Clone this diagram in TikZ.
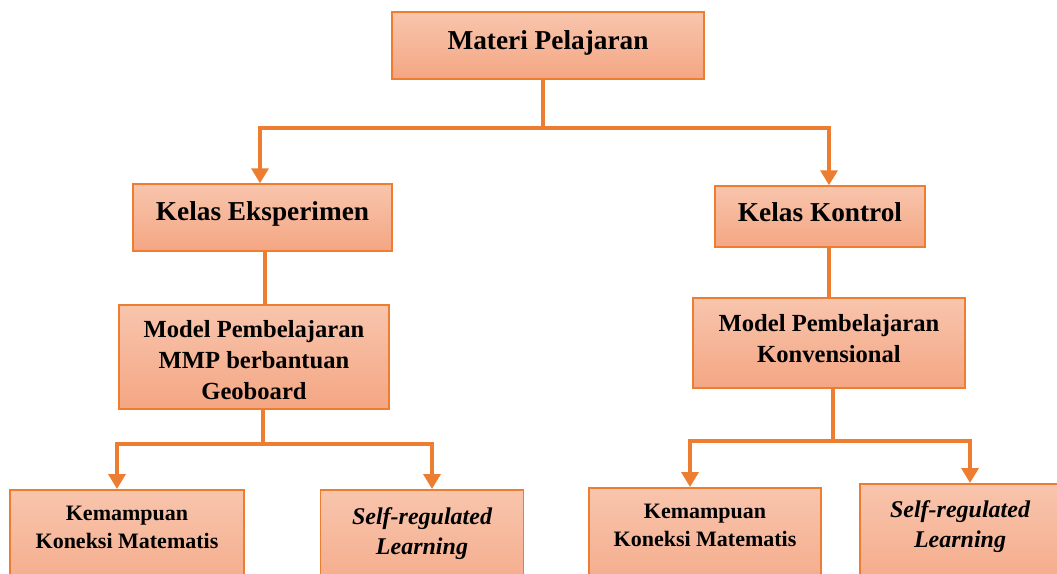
\documentclass[tikz,border=0pt]{standalone}
\usepackage{fontspec}
\setmainfont{Liberation Serif}
\usetikzlibrary{arrows.meta}
\definecolor{edge}{HTML}{ED7D31}
\definecolor{ftop}{HTML}{F8C5AD}
\definecolor{fbot}{HTML}{F4A683}
\begin{document}
\begin{tikzpicture}[x=1pt,y=-1pt,
  box/.style={draw=edge,line width=1.5pt,top color=ftop,bottom color=fbot,inner sep=0pt},
  conn/.style={draw=edge,line width=3.5pt},
  arr/.style={conn,-{Triangle[width=17pt,length=15pt]}},
  txt/.style={align=center,inner sep=0pt},
  big/.style={txt,font=\bfseries\fontsize{27.3}{32}\selectfont},
  mid/.style={txt,font=\bfseries\fontsize{24.6}{31}\selectfont},
  small/.style={txt,font=\bfseries\fontsize{22}{28}\selectfont},
  ital/.style={txt,font=\bfseries\itshape\fontsize{24}{30}\selectfont}]
\useasboundingbox (0,0) rectangle (1057,573);
\clip (0,0) rectangle (1057,573);
% boxes
\node[box,minimum width=312pt,minimum height=67pt] (materi) at (548,45.5) {};
\node[box,minimum width=259pt,minimum height=67pt] (ke) at (262.5,217.5) {};
\node[box,minimum width=210pt,minimum height=61pt] (kk) at (820,216.5) {};
\node[box,minimum width=270pt,minimum height=104pt] (mmp) at (254,357) {};
\node[box,minimum width=272pt,minimum height=90pt] (mk) at (829,343) {};
\node[box,minimum width=234pt,minimum height=120pt,anchor=north] (b1) at (127,489) {};
\node[box,minimum width=203pt,minimum height=120pt,anchor=north] (b2) at (422,489) {};
\node[box,minimum width=232pt,minimum height=120pt,anchor=north] (b3) at (705,487) {};
\node[box,minimum width=210pt,minimum height=120pt,anchor=north] (b4) at (965,483) {};
% texts
\node[big] (materit) at (548,42.5) {Materi Pelajaran};
\node[big] (ket) at (262.5,214) {Kelas Eksperimen};
\node[big] (kkt) at (820,212.5) {Kelas Kontrol};
\node[mid] (mmpt) at (254,360) {Model Pembelajaran\\MMP berbantuan\\Geoboard};
\node[mid] (mkt) at (829,339) {Model Pembelajaran\\Konvensional};
\node[small] (b1t) at (127,527) {Kemampuan\\Koneksi Matematis};
\node[ital] (b2t) at (422,533.5) {Self-regulated\\Learning};
\node[small] (b3t) at (705,525) {Kemampuan\\Koneksi Matematis};
\node[ital] (b4t) at (960,527) {Self-regulated\\Learning};
% connectors
\coordinate (j1) at (543,128);
\draw[conn] ([xshift=-5pt]materi.south) -- (j1);
\draw[arr] (j1) -| ([xshift=-2.5pt]ke.north);
\draw[arr] (j1) -| ([xshift=9pt]kk.north);
\draw[conn] ([xshift=2.5pt]ke.south) -- ([xshift=2.5pt]ke.south |- mmp.north);
\draw[conn] ([xshift=9pt]kk.south) -- ([xshift=9pt]kk.south |- mk.north);
\coordinate (j2) at (263,444);
\draw[conn] (mmp.south -| j2) -- (j2);
\draw[arr] (j2) -| ([xshift=-10pt]b1.north);
\draw[arr] (j2) -| ([xshift=10pt]b2.north);
\coordinate (j3) at (833,441);
\draw[conn] (mk.south -| j3) -- (j3);
\draw[arr] (j3) -| ([xshift=-15pt]b3.north);
\draw[arr] (j3) -| ([xshift=5pt]b4.north);
\end{tikzpicture}
\end{document}
